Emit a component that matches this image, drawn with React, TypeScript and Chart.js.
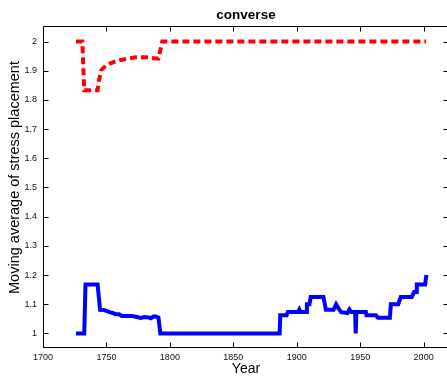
import React, { useEffect, useRef } from "react";
import { Chart, registerables } from "chart.js";

Chart.register(...registerables);

// ---- data ----
const chartTitle = "converse";
const xAxisTitle = "Year";
const yAxisTitle = "Moving average of stress placement";

const xTicks = [1700, 1750, 1800, 1850, 1900, 1950, 2000];
const yTicks = [1, 1.1, 1.2, 1.3, 1.4, 1.5, 1.6, 1.7, 1.8, 1.9, 2];
const yTickLabels = ["1", "1.1", "1.2", "1.3", "1.4", "1.5", "1.6", "1.7", "1.8", "1.9", "2"];

const redYears = [1726, 1731, 1732.5, 1743, 1744, 1746, 1750, 1758, 1765, 1773, 1781, 1789, 1791, 1794, 2002];
const redValues = [2, 2, 1.833, 1.833, 1.865, 1.903, 1.92, 1.934, 1.94, 1.946, 1.946, 1.942, 1.942, 2, 2];

const blueYears = [
  1726, 1732.5, 1733.5, 1743, 1745, 1748, 1750, 1753, 1755, 1757, 1760, 1762, 1770, 1774, 1777, 1780, 1783, 1785,
  1787, 1789, 1791, 1792.5, 1886.5, 1887, 1892, 1893, 1901, 1902, 1903, 1907.5, 1908, 1910, 1911, 1921, 1923,
  1929, 1931, 1933, 1935, 1940, 1941.5, 1943, 1946, 1946.5, 1947, 1954.5, 1955, 1962.4, 1964, 1973.4, 1974.2,
  1980, 1982, 1990.7, 1992.5, 1994, 1994.6, 2001.2, 2002.2,
];
const blueValues = [
  1.0, 1.0, 1.168, 1.168, 1.081, 1.08, 1.077, 1.072, 1.07, 1.066, 1.066, 1.06, 1.06, 1.056, 1.053, 1.056, 1.055, 1.052,
  1.058, 1.058, 1.054, 1.0, 1.0, 1.062, 1.062, 1.073, 1.073, 1.082, 1.073, 1.073, 1.1, 1.1, 1.125, 1.125, 1.081,
  1.081, 1.1, 1.085, 1.073, 1.07, 1.082, 1.073, 1.073, 1.0, 1.073, 1.073, 1.062, 1.062, 1.054, 1.054, 1.1,
  1.1, 1.125, 1.125, 1.142, 1.142, 1.168, 1.168, 1.2,
];

const xMin = 1700;
const xMax = 2020;
const yMin = 0.95;
const yMax = 2.05;

const FONT = '"Liberation Sans", Arial, Helvetica, sans-serif';

const framePlugin = {
  id: "matlabFrame",
  afterDraw(chart: any) {
    const { ctx, chartArea: a, scales } = chart;
    const xs = scales.x;
    const ys = scales.y;
    ctx.save();
    ctx.strokeStyle = "#000";
    ctx.lineWidth = 1;
    const L = Math.round(a.left) + 0.5;
    const R = Math.round(a.right) - 0.5;
    const T = Math.round(a.top) - 0.5;
    const B = Math.round(a.bottom) - 0.5;
    ctx.beginPath();
    ctx.moveTo(L, T);
    ctx.lineTo(R, T);
    ctx.lineTo(R, B);
    ctx.lineTo(L, B);
    ctx.closePath();
    ctx.stroke();
    const tl = 5;
    ctx.beginPath();
    xTicks.forEach((v) => {
      const px = Math.round(xs.getPixelForValue(v)) + 0.5;
      ctx.moveTo(px, B);
      ctx.lineTo(px, B - tl);
      ctx.moveTo(px, T);
      ctx.lineTo(px, T + tl);
    });
    yTicks.forEach((v) => {
      const py = Math.round(ys.getPixelForValue(v)) + 0.5;
      ctx.moveTo(L, py);
      ctx.lineTo(L + tl, py);
      ctx.moveTo(R, py);
      ctx.lineTo(R - tl, py);
    });
    ctx.stroke();

    // title
    ctx.fillStyle = "#000";
    ctx.font = `bold 13.5px ${FONT}`;
    ctx.textAlign = "center";
    ctx.textBaseline = "alphabetic";
    ctx.fillText(chartTitle, (a.left + a.right) / 2, 18.5);

    // y axis title
    ctx.translate(15, 177.5);
    ctx.rotate(-Math.PI / 2);
    ctx.font = `14.5px ${FONT}`;
    ctx.textAlign = "center";
    ctx.textBaseline = "middle";
    ctx.fillText(yAxisTitle, 0, 0);
    ctx.restore();
  },
};

export default function App() {
  const ref = useRef<HTMLCanvasElement | null>(null);

  useEffect(() => {
    if (!ref.current) return;
    const chart = new Chart(ref.current, {
      type: "line",
      data: {
        datasets: [
          {
            data: redYears.map((x, i) => ({ x, y: redValues[i] })),
            borderColor: "#ff0000",
            borderWidth: 4,
            borderDash: [7, 4],
            pointRadius: 0,
            tension: 0,
            fill: false,
          },
          {
            data: blueYears.map((x, i) => ({ x, y: blueValues[i] })),
            borderColor: "#0000ff",
            borderWidth: 4,
            pointRadius: 0,
            tension: 0,
            fill: false,
          },
        ],
      },
      options: {
        responsive: false,
        animation: false,
        devicePixelRatio: 1,
        layout: { padding: { top: 27, right: 2, left: 0, bottom: 0 } },
        plugins: {
          legend: { display: false },
          title: { display: false },
          tooltip: { enabled: false },
        },
        scales: {
          x: {
            type: "linear",
            min: xMin,
            max: xMax,
            grid: { display: false, drawTicks: false },
            border: { display: false },
            afterBuildTicks: (s: any) => {
              s.ticks = xTicks.map((value) => ({ value }));
            },
            afterFit: (s: any) => {
              s.height = 28;
            },
            ticks: {
              padding: 4,
              maxRotation: 0,
              autoSkip: false,
              color: "#111",
              font: { family: FONT, size: 9 },
              callback: (v: any) => String(v),
            },
            title: {
              display: true,
              text: xAxisTitle,
              color: "#000",
              padding: 0,
              font: { family: FONT, size: 14, lineHeight: 1 },
            },
          },
          y: {
            type: "linear",
            min: yMin,
            max: yMax,
            grid: { display: false, drawTicks: false },
            border: { display: false },
            afterBuildTicks: (s: any) => {
              s.ticks = yTicks.map((value) => ({ value }));
            },
            afterFit: (s: any) => {
              s.width = 43;
            },
            ticks: {
              padding: 6,
              autoSkip: false,
              color: "#111",
              font: { family: FONT, size: 9 },
              callback: (v: any) => {
                const i = yTicks.findIndex((t) => Math.abs(t - v) < 1e-6);
                return i >= 0 ? yTickLabels[i] : "";
              },
            },
          },
        },
      },
      plugins: [framePlugin],
    } as any);
    return () => chart.destroy();
  }, []);

  return (
    <div style={{ position: "absolute", left: 0, top: 0, width: 447, height: 376, overflow: "hidden", background: "#fff" }}>
      <canvas ref={ref} width={451} height={376} style={{ display: "block" }} />
    </div>
  );
}
